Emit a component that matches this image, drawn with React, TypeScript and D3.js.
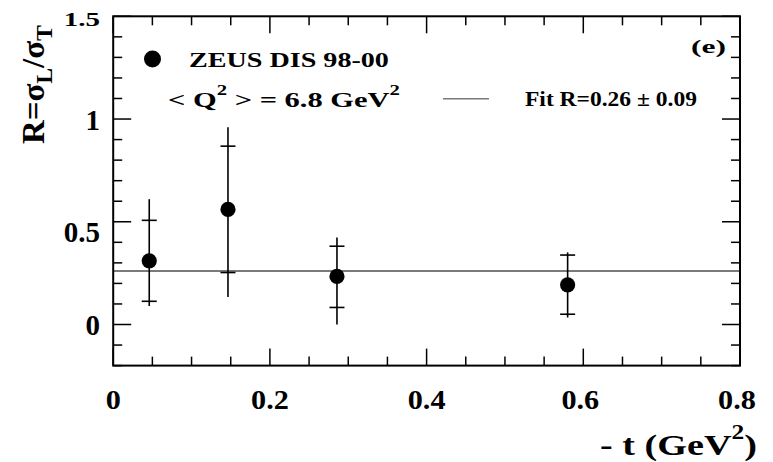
import React, { useEffect, useRef } from 'react';
import * as d3 from 'd3';

// data
const tValues = [0.046, 0.1465, 0.2856, 0.58];
const rValues = [0.31, 0.56, 0.234, 0.193];
const statUp = [0.197, 0.308, 0.147, 0.145];
const statDown = [0.197, 0.307, 0.151, 0.143];
const totUp = [0.3, 0.4, 0.19, 0.158];
const totDown = [0.22, 0.426, 0.234, 0.159];
const fitValue = 0.26;

const xTickLabels = [0, 0.2, 0.4, 0.6, 0.8];
const yTickLabels = [0, 0.5, 1, 1.5];

const FONT = '"Liberation Serif", "DejaVu Serif", "Times New Roman", serif';

const App: React.FC = () => {
    const svgRef = useRef<SVGSVGElement>(null);

    useEffect(() => {
        if (!svgRef.current) return;
        const svg = d3.select(svgRef.current);
        svg.selectAll('*').remove();

        const left = 113.2;
        const right = 740;
        const top = 16.3;
        const bottom = 365.6;

        const x = d3.scaleLinear().domain([0, 0.8]).range([left, right]);
        const y = d3.scaleLinear().domain([-0.2, 1.5]).range([bottom, top]);

        // stretch a text horizontally so it spans [x0, x0 + w]
        const fitText = (t: d3.Selection<SVGTextElement, unknown, null, undefined>, x0: number, w: number, sy = 1) => {
            const bb = (t.node() as SVGTextElement).getBBox();
            const sx = w / bb.width;
            t.attr('transform', `translate(${x0},0) scale(${sx},${sy}) translate(${-bb.x},0)`);
        };

        // fit line
        svg.append('line')
            .attr('x1', x(0))
            .attr('x2', x(0.8))
            .attr('y1', y(fitValue))
            .attr('y2', y(fitValue))
            .attr('stroke', '#7a7a7a')
            .attr('stroke-width', 2);

        // frame
        svg.append('rect')
            .attr('x', left)
            .attr('y', top)
            .attr('width', right - left)
            .attr('height', bottom - top)
            .attr('fill', 'none')
            .attr('stroke', 'black')
            .attr('stroke-width', 2);

        // x ticks (bottom + top)
        const xMinor = d3.range(0, 0.8001, 0.05);
        xMinor.forEach(v => {
            const major = Math.abs(v / 0.2 - Math.round(v / 0.2)) < 1e-6;
            const len = major ? 17 : 9;
            svg.append('line')
                .attr('x1', x(v)).attr('x2', x(v))
                .attr('y1', bottom).attr('y2', bottom - len)
                .attr('stroke', 'black').attr('stroke-width', 1.5);
            svg.append('line')
                .attr('x1', x(v)).attr('x2', x(v))
                .attr('y1', top).attr('y2', top + len)
                .attr('stroke', 'black').attr('stroke-width', 1.5);
        });

        // y ticks (left + right)
        const yMinor = d3.range(-0.2, 1.5001, 0.1);
        yMinor.forEach(v => {
            const major = Math.abs(v / 0.5 - Math.round(v / 0.5)) < 1e-6;
            const len = major ? 18 : 9;
            svg.append('line')
                .attr('x1', left).attr('x2', left + len)
                .attr('y1', y(v)).attr('y2', y(v))
                .attr('stroke', 'black').attr('stroke-width', 1.5);
            svg.append('line')
                .attr('x1', right).attr('x2', right - len)
                .attr('y1', y(v)).attr('y2', y(v))
                .attr('stroke', 'black').attr('stroke-width', 1.5);
        });

        // x tick labels
        xTickLabels.forEach(v => {
            const cx = x(v) - (v > 0.5 ? 3 : 0);
            svg.append('text')
                .attr('transform', `translate(${cx},409) scale(1.12,1)`)
                .attr('text-anchor', 'middle')
                .attr('font-family', FONT)
                .attr('font-weight', 'bold')
                .attr('font-size', 27)
                .text(String(v));
        });

        // y tick labels (baseline nudges as in the original)
        const yNudge: Record<string, number> = { '0': 10.5, '0.5': 20, '1': 11, '1.5': 9.7 };
        yTickLabels.forEach(v => {
            const key = String(v);
            const by = y(v) + (yNudge[key] ?? 10);
            const sy = v === 1.5 ? 0.68 : 1;
            svg.append('text')
                .attr('transform', `translate(100,${by}) scale(1,${sy})`)
                .attr('text-anchor', 'end')
                .attr('font-family', FONT)
                .attr('font-weight', 'bold')
                .attr('font-size', 29)
                .text(key);
        });

        // x axis title
        const xt = svg.append('text')
            .attr('y', 455)
            .attr('font-family', FONT)
            .attr('font-weight', 'bold')
            .attr('font-size', 30);
        xt.append('tspan').text('- t (GeV');
        xt.append('tspan').attr('font-size', 20).attr('dy', -16).text('2');
        xt.append('tspan').attr('dy', 16).text(')');
        fitText(xt, 600, 157);

        // y axis title (rotated)
        const yg = svg.append('g').attr('transform', 'translate(43.5,144) rotate(-90)');
        const yt = yg.append('text')
            .attr('font-family', FONT)
            .attr('font-weight', 'bold')
            .attr('font-size', 29);
        yt.append('tspan').text('R=σ');
        yt.append('tspan').attr('font-size', 21).attr('dy', 8).text('L');
        yt.append('tspan').attr('dy', -8).text('/σ');
        yt.append('tspan').attr('font-size', 21).attr('dy', 8).text('T');
        fitText(yt, 0, 119, 1.12);

        // error bars
        const cap = 7.5;
        tValues.forEach((t, i) => {
            const cx = x(t);
            const r = rValues[i];
            svg.append('line')
                .attr('x1', cx).attr('x2', cx)
                .attr('y1', y(r + totUp[i])).attr('y2', y(r - totDown[i]))
                .attr('stroke', 'black').attr('stroke-width', 1.6);
            [r + statUp[i], r - statDown[i]].forEach(v => {
                svg.append('line')
                    .attr('x1', cx - cap).attr('x2', cx + cap)
                    .attr('y1', y(v)).attr('y2', y(v))
                    .attr('stroke', 'black').attr('stroke-width', 1.6);
            });
        });

        // markers
        svg.selectAll('circle.pt')
            .data(tValues)
            .enter()
            .append('circle')
            .attr('class', 'pt')
            .attr('cx', d => x(d))
            .attr('cy', (_, i) => y(rValues[i]))
            .attr('r', 7.6)
            .attr('fill', 'black');

        // legend
        svg.append('circle')
            .attr('cx', 152.5)
            .attr('cy', 59)
            .attr('r', 8.5)
            .attr('fill', 'black');

        const l1 = svg.append('text')
            .attr('y', 67.5)
            .attr('font-family', FONT)
            .attr('font-weight', 'bold')
            .attr('font-size', 22)
            .text('ZEUS DIS 98-00');
        fitText(l1, 189, 200);

        const l2 = svg.append('text')
            .attr('y', 107)
            .attr('font-family', FONT)
            .attr('font-weight', 'bold')
            .attr('font-size', 22);
        l2.append('tspan').text('< Q');
        l2.append('tspan').attr('font-size', 15).attr('dy', -12).text('2');
        l2.append('tspan').attr('dy', 12).text(' >  = 6.8 GeV');
        l2.append('tspan').attr('font-size', 15).attr('dy', -12).text('2');
        fitText(l2, 168, 232);

        svg.append('line')
            .attr('x1', 443).attr('x2', 489)
            .attr('y1', 98.7).attr('y2', 98.7)
            .attr('stroke', '#7a7a7a')
            .attr('stroke-width', 1.5);

        const l3 = svg.append('text')
            .attr('y', 106.5)
            .attr('font-family', FONT)
            .attr('font-weight', 'bold')
            .attr('font-size', 21)
            .text(`Fit R=${fitValue.toFixed(2)} ± 0.09`);
        fitText(l3, 525, 172);

        const l4 = svg.append('text')
            .attr('y', 53)
            .attr('font-family', FONT)
            .attr('font-weight', 'bold')
            .attr('font-size', 19)
            .text('(e)');
        fitText(l4, 691, 35);
    }, []);

    return (
        <svg
            ref={svgRef}
            width="773"
            height="462"
            style={{ position: 'absolute', left: 0, top: 0, background: 'white' }}
        ></svg>
    );
};

export default App;
